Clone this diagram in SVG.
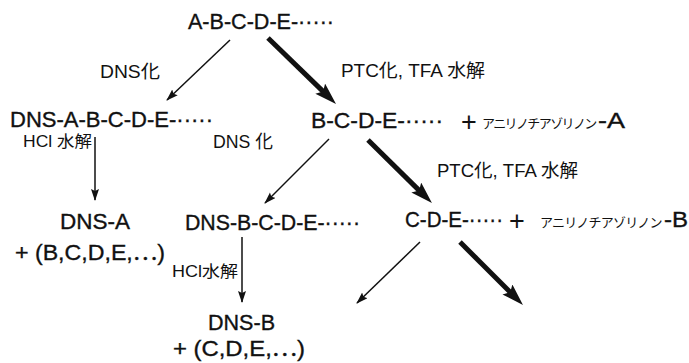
<svg xmlns="http://www.w3.org/2000/svg" width="689" height="363" viewBox="0 0 689 363">
  <style>
    text { fill: #111; font-family: "Liberation Sans", "Noto Sans CJK JP", sans-serif; }
    .chain { font-size: 22px; stroke: #111; stroke-width: 0.35; }
    .lbl { font-size: 18px; }
    .small { font-size: 16px; }
    .kana { font-size: 13px; font-family: "Noto Sans CJK JP", sans-serif; }
    .plus { font-size: 27px; text-anchor: middle; }
    .thin { stroke: #111; stroke-width: 1.5; fill: none; }
    .thick { stroke: #111; stroke-width: 5; fill: none; }
  </style>
  <defs>
    <marker id="headThin" markerUnits="userSpaceOnUse" markerWidth="14" markerHeight="10" refX="11" refY="4" orient="auto">
      <path d="M0,0 L12,4 L0,8 L2,4 z" fill="#111"/>
    </marker>
    <marker id="headThick" markerUnits="userSpaceOnUse" markerWidth="24" markerHeight="16" refX="10" refY="7" orient="auto">
      <path d="M0,0 L22,7 L0,14 L4,7 z" fill="#111"/>
    </marker>
  </defs>
  <rect width="689" height="363" fill="#fff"/>

  <g id="connectors">
    <!-- DNS labelling branches -->
    <line class="thin" x1="230" y1="40" x2="167" y2="100" marker-end="url(#headThin)"/>
    <line class="thin" x1="329" y1="139" x2="265" y2="203" marker-end="url(#headThin)"/>
    <line class="thin" x1="420" y1="242" x2="357" y2="303" marker-end="url(#headThin)"/>
    <!-- Edman degradation steps -->
    <line class="thick" x1="268" y1="38" x2="327.4" y2="95.6" marker-end="url(#headThick)"/>
    <line class="thick" x1="368" y1="140" x2="423.4" y2="194.6" marker-end="url(#headThick)"/>
    <line class="thick" x1="460" y1="242" x2="514.5" y2="296.5" marker-end="url(#headThick)"/>
    <!-- HCl hydrolysis -->
    <line class="thin" x1="95" y1="137" x2="95" y2="200" marker-end="url(#headThin)"/>
    <line class="thin" x1="242" y1="237" x2="242" y2="302" marker-end="url(#headThin)"/>
  </g>

  <g id="labels">
    <text class="lbl" x="100" y="78" textLength="60" lengthAdjust="spacingAndGlyphs">DNS化</text>
    <text class="lbl" x="341" y="77" textLength="144" lengthAdjust="spacingAndGlyphs">PTC化, TFA 水解</text>
    <text class="small" x="23" y="147" textLength="69" lengthAdjust="spacingAndGlyphs">HCl 水解</text>
    <text class="lbl" x="213" y="148" textLength="60" lengthAdjust="spacingAndGlyphs">DNS 化</text>
    <text class="lbl" x="437" y="177" textLength="141" lengthAdjust="spacingAndGlyphs">PTC化, TFA 水解</text>
    <text class="small" x="172" y="277" textLength="66" lengthAdjust="spacingAndGlyphs">HCl水解</text>
  </g>

  <g id="peptide">
    <text class="chain" x="188" y="29" textLength="146" lengthAdjust="spacingAndGlyphs">A-B-C-D-E-·····</text>
  </g>

  <g id="dns-peptide">
    <text class="chain" x="10" y="127" textLength="203" lengthAdjust="spacingAndGlyphs">DNS-A-B-C-D-E-·····</text>
  </g>

  <g id="peptide-minus-a">
    <text class="chain" x="311" y="128" textLength="132" lengthAdjust="spacingAndGlyphs">B-C-D-E-·····</text>
    <text class="plus" x="469" y="131">+</text>
    <text class="kana" x="482" y="128" letter-spacing="-1.6">アニリノチアゾリノン</text>
    <text class="chain" x="598" y="128" textLength="27" lengthAdjust="spacingAndGlyphs">-A</text>
  </g>

  <g id="dns-a">
    <text class="chain" x="60" y="229" textLength="70" lengthAdjust="spacingAndGlyphs">DNS-A</text>
    <text class="chain" x="15" y="260" textLength="150" lengthAdjust="spacingAndGlyphs">+ (B,C,D,E,⋯)</text>
  </g>

  <g id="dns-peptide-b">
    <text class="chain" x="185" y="230" textLength="175" lengthAdjust="spacingAndGlyphs">DNS-B-C-D-E-·····</text>
  </g>

  <g id="peptide-minus-b">
    <text class="chain" x="405" y="227" textLength="98" lengthAdjust="spacingAndGlyphs">C-D-E-·····</text>
    <text class="plus" x="517" y="230">+</text>
    <text class="kana" x="540" y="227" letter-spacing="-0.8">アニリノチアゾリノン</text>
    <text class="chain" x="664" y="227" textLength="24" lengthAdjust="spacingAndGlyphs">-B</text>
  </g>

  <g id="dns-b">
    <text class="chain" x="208" y="330" textLength="67" lengthAdjust="spacingAndGlyphs">DNS-B</text>
    <text class="chain" x="173" y="356" textLength="132" lengthAdjust="spacingAndGlyphs">+ (C,D,E,⋯)</text>
  </g>
</svg>
